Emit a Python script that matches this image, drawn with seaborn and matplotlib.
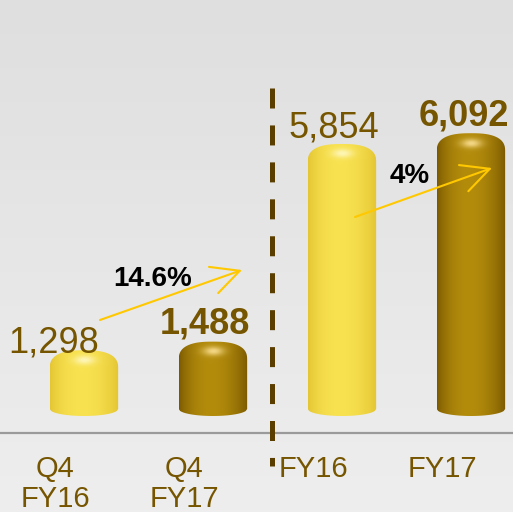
import numpy as np
import pandas as pd
import matplotlib
matplotlib.use('Agg')
import matplotlib.pyplot as plt
import seaborn as sns
from matplotlib.patches import Polygon
from matplotlib.transforms import ScaledTranslation

# Data
categories = ['Q4\nFY16', 'Q4\nFY17', 'FY16', 'FY17']
values = [1298, 1488, 5854, 6092]
value_labels = ['1,298', '1,488', '5,854', '6,092']
growth_labels = ['14.6%', '4%']

# Style
sns.set_theme(style='white')
plt.rcParams['font.family'] = ['Liberation Sans', 'DejaVu Sans']
plt.rcParams['lines.scale_dashes'] = False

text_color = '#765500'
light = ('#E4C432', '#F8E250', '#FFF9C8')   # edge, middle, highlight
dark = ('#7A5800', '#B38C0C', '#FFE49A')
bar_styles = [light, dark, light, dark]
label_weights = ['normal', 'bold', 'normal', 'bold']
label_dx = [-30, -8, -8, -7]   # pixels
label_dy = [-2, 8, 6, 8]

fig = plt.figure(figsize=(5.13, 5.12), dpi=100)

# background gradient (light at bottom, grey at top)
bg = fig.add_axes([0, 0, 1, 1], zorder=0)
grad = np.linspace(0xEE, 0xDF, 256)[:, None] / 255
bg.imshow(np.dstack([grad] * 3), aspect='auto', extent=(0, 1, 0, 1), origin='lower')
bg.axis('off')

ax_h_px = 433
zero_px = 24          # value 0 sits this many pixels above the axis line
k = 0.04527           # pixels per unit
ax = fig.add_axes([0, 1 - ax_h_px / 512, 1, ax_h_px / 512], zorder=1)
ax.set_facecolor('none')

df = pd.DataFrame({'period': categories, 'value': values})
sns.barplot(data=df, x='period', y='value', ax=ax, width=0.53, color='#F5DC48')

xlim = (-0.651, 3.326)
ylim = (-zero_px / k, (ax_h_px - zero_px) / k)


def cylinder(ax, x0, w, h, style):
    edge, mid, hi = [np.array(matplotlib.colors.to_rgb(c)) for c in style]
    d = 18 / k
    b = 7 / k
    cx = x0 + w / 2
    t = np.linspace(0, np.pi, 80)
    n = 2.6
    top_x = cx + (w / 2) * np.sign(np.cos(t)) * np.abs(np.cos(t)) ** (2 / n)
    top_y = h - d + d * np.abs(np.sin(t)) ** (2 / n)
    bx = np.linspace(x0, x0 + w, 50)
    by = -b * np.sqrt(np.clip(1 - ((bx - cx) / (w / 2)) ** 2, 0, 1))
    verts = np.vstack([np.column_stack([top_x, top_y]), np.column_stack([bx, by])])
    poly = Polygon(verts, closed=True, facecolor='none', edgecolor='none', zorder=2)
    ax.add_patch(poly)

    nx, ny = 120, 400
    xs = np.linspace(0, 1, nx)
    ys = np.linspace(-b, h, ny)
    s = np.sin(np.pi * xs ** 0.9) ** 0.8
    img = edge[None, None, :] + (mid - edge)[None, None, :] * s[None, :, None]
    img = np.repeat(img, ny, axis=0)
    hy = h - d * 0.55
    g = np.exp(-((xs[None, :] - 0.5) / 0.15) ** 2 - ((ys[:, None] - hy) / (4.5 / k)) ** 2)
    img = img + (hi - img) * (0.85 * g)[:, :, None]
    im = ax.imshow(np.clip(img, 0, 1), extent=(x0, x0 + w, -b, h), origin='lower',
                   aspect='auto', zorder=2, interpolation='bilinear')
    im.set_clip_path(poly)


bars = list(ax.patches)
for i, p in enumerate(bars):
    x0, w, h = p.get_x(), p.get_width(), p.get_height()
    p.set_visible(False)
    cylinder(ax, x0, w, h, bar_styles[i])
    ax.annotate(value_labels[i], xy=(x0 + w / 2, h),
                xytext=(label_dx[i] * 0.72, label_dy[i] * 0.72), textcoords='offset points',
                ha='center', va='baseline', fontsize=26, fontweight=label_weights[i],
                color=text_color, zorder=5)

ax.set_xlim(*xlim)
ax.set_ylim(*ylim)

# axes cosmetics
ax.set_xlabel('')
ax.set_ylabel('')
ax.set_yticks([])
ax.tick_params(axis='x', length=0, pad=16, labelsize=21, labelcolor=text_color)
for sp in ['left', 'right', 'top']:
    ax.spines[sp].set_visible(False)
ax.spines['bottom'].set_color('#9A9A9A')
ax.spines['bottom'].set_linewidth(1.6)
shift = ScaledTranslation(-29 / 100, 0, fig.dpi_scale_trans)
for lab in ax.get_xticklabels():
    lab.set_linespacing(1.1)
    lab.set_transform(lab.get_transform() + shift)

# dashed divider between quarter and full year
ax.plot([272 / 513, 272 / 513], [1 - 88 / ax_h_px, 1 - 466 / ax_h_px], transform=ax.transAxes,
        color='#5A3E00', lw=3.6, dashes=(14.4, 12.2), clip_on=False, zorder=3,
        dash_capstyle='butt')

# growth arrows and labels
arrows = [((100 / 513, 1 - 320 / ax_h_px), (242 / 513, 1 - 270 / ax_h_px)),
          ((355 / 513, 1 - 217 / ax_h_px), (492 / 513, 1 - 168 / ax_h_px))]
growth_pos = [(153 / 513, 1 - 286 / ax_h_px), (410 / 513, 1 - 183 / ax_h_px)]
for (start, end), txt, pos in zip(arrows, growth_labels, growth_pos):
    ax.annotate('', xy=end, xytext=start, xycoords='axes fraction', textcoords='axes fraction',
                arrowprops=dict(arrowstyle='->,head_length=1.0,head_width=0.5', color='#FFC800',
                                lw=1.5, mutation_scale=20, shrinkA=0, shrinkB=0), zorder=4)
    ax.text(pos[0], pos[1], txt, transform=ax.transAxes, ha='center', va='baseline',
            fontsize=20, fontweight='bold', color='black', zorder=5)

fig.savefig('out.png', dpi=100)
